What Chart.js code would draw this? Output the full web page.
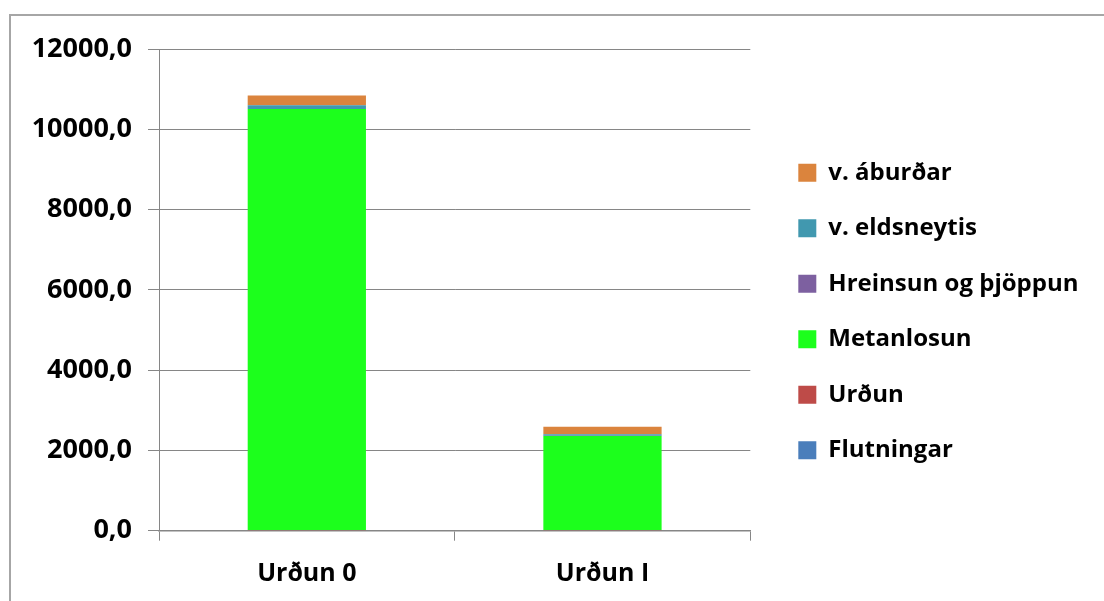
<!DOCTYPE html>
<html lang="is">
<head>
<meta charset="utf-8">
<title>Losun eftir urðunarleiðum</title>
<script src="https://cdn.jsdelivr.net/npm/chart.js@4/dist/chart.umd.min.js"></script>
<style>
  html, body { margin: 0; padding: 0; background: #ffffff; overflow: hidden; }
  #wrap { position: relative; width: 1104px; height: 601px; }
  #frame {
    position: absolute; left: 9px; top: 14px; width: 1200px; height: 700px;
    border: 2px solid #a6a6a6; box-sizing: border-box;
  }
  #chart { position: absolute; left: 0; top: 0; }
</style>
</head>
<body>
<div id="wrap">
  <div id="frame"></div>
  <canvas id="chart" width="1104" height="601"></canvas>
</div>
<script>
// Categories (scenarios) and series values
const categories = ['Urðun 0', 'Urðun I'];

const flutningar = [12, 12];
const urdun = [6, 6];
const metanlosun = [10487, 2343];
const hreinsunOgThjoppun = [0, 4];
const vEldsneytis = [93, 35];
const vAburdar = [241, 189];

// Stacking order, bottom to top (legend lists it top to bottom)
const seriesNames = ['Flutningar', 'Urðun', 'Metanlosun', 'Hreinsun og þjöppun', 'v. eldsneytis', 'v. áburðar'];
const seriesColors = ['#4a7ebb', '#be4b48', '#1cff1c', '#7d60a0', '#4198af', '#db843d'];
const seriesValues = [flutningar, urdun, metanlosun, hreinsunOgThjoppun, vEldsneytis, vAburdar];

// Value axis
const yMin = 0;
const yMax = 12000;
const yStep = 2000;

const FONT = "'Open Sans', sans-serif";
const AXIS_GREY = '#868686';

const datasets = seriesNames.map((name, i) => ({
  label: name,
  data: seriesValues[i],
  backgroundColor: seriesColors[i],
  borderWidth: 0,
  barPercentage: 0.4,
  categoryPercentage: 1.0
}));

new Chart(document.getElementById('chart'), {
  type: 'bar',
  data: { labels: categories, datasets },
  options: {
    responsive: false,
    animation: false,
    layout: { padding: { left: 0, top: 49, right: 15.5, bottom: 0 } },
    plugins: {
      tooltip: { enabled: false },
      legend: {
        position: 'right',
        fullSize: false,
        reverse: true,
        maxWidth: 420,
        title: { display: true, text: '', font: { size: 10, lineHeight: 1 }, padding: { top: 33.4, bottom: 0 } },
        labels: {
          boxWidth: 18,
          boxHeight: 18,
          padding: 31.5,
          color: '#000000',
          font: { family: FONT, size: 24, weight: 'bold' }
        }
      }
    },
    scales: {
      x: {
        stacked: true,
        grid: {
          display: true,
          drawOnChartArea: false,
          drawTicks: true,
          tickLength: 10,
          color: AXIS_GREY,
          offset: true
        },
        border: { display: true, color: AXIS_GREY, width: 1.5 },
        ticks: {
          color: '#000000',
          padding: 18,
          font: { family: FONT, size: 25, weight: 'bold' }
        },
        afterFit: (s) => { s.height = 70.3; }
      },
      y: {
        stacked: true,
        min: yMin,
        max: yMax,
        grid: { color: AXIS_GREY, tickLength: 11, lineWidth: 1 },
        border: { display: true, color: AXIS_GREY, width: 1 },
        ticks: {
          stepSize: yStep,
          color: '#000000',
          padding: 16,
          font: { family: FONT, size: 27, weight: 'bold' },
          callback: (v) => v.toFixed(1).replace('.', ',')
        },
        afterFit: (s) => { s.width = 159; }
      },
      // empty spacer between plot area and legend
      gap: {
        position: 'right',
        display: true,
        grid: { display: false },
        border: { display: false },
        ticks: { display: false },
        afterFit: (s) => { s.width = 16.5; }
      }
    }
  }
});
</script>
</body>
</html>
